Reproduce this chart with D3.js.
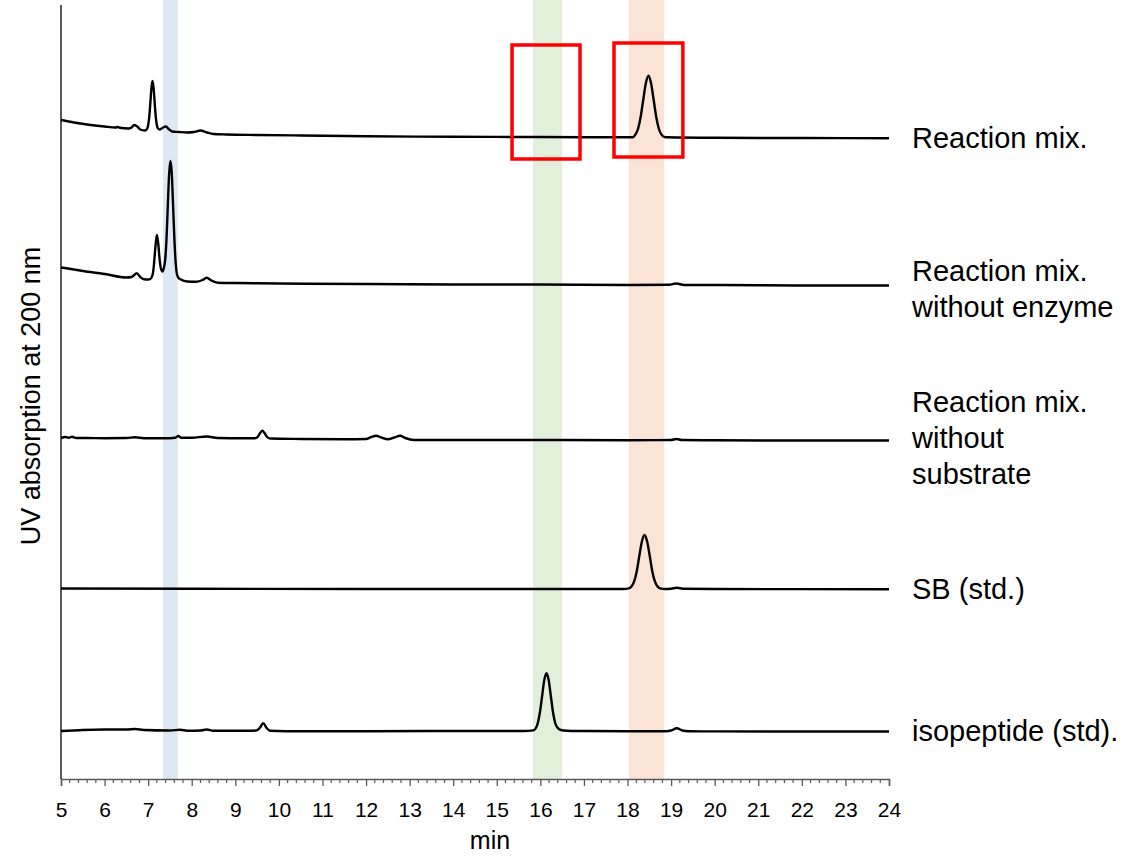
<!DOCTYPE html>
<html>
<head>
<meta charset="utf-8">
<script src="https://cdn.jsdelivr.net/npm/d3@7"></script>
<style>
  body { margin: 0; background: #fff; }
  text { font-family: "Liberation Sans", Arial, sans-serif; }
</style>
</head>
<body>
<svg id="chart" width="1138" height="858"></svg>
<script>
var width = 1138;
var height = 858;
var margin = {"top": 5, "right": 249, "bottom": 79, "left": 61};

// data: retention time (min) and UV signal (a.u.)
var reactionMix = [[5.0,659],[5.3,656.5],[5.6,654.5],[6.0,652.5],[6.25,651.5],[6.3,652],[6.35,651.2],[6.55,650.5],[6.62,651.5],[6.68,654],[6.75,652.5],[6.82,649.5],[6.92,648.5],[6.975,650],[7.0,654],[7.025,662],[7.05,676],[7.075,691],[7.1,698],[7.125,691],[7.15,676],[7.175,662],[7.2,654],[7.225,650.5],[7.27,649.5],[7.34,651.5],[7.41,652.5],[7.47,650],[7.55,647.5],[7.7,647],[7.9,646.5],[8.05,647],[8.2,648.5],[8.35,646.5],[8.5,645],[8.8,644.5],[9.5,644],[10.5,643.5],[12,642.8],[14,642.2],[16,642],[17,641.8],[18.12,641.8],[18.18,644.4],[18.24,650],[18.3,661.7],[18.36,679],[18.42,695.7],[18.48,703.3],[18.54,695.7],[18.6,679],[18.66,661.7],[18.72,650],[18.78,644.4],[18.84,642.2],[18.92,641.7],[20,641.2],[22,641],[24,640.8]];
var noEnzyme = [[5,511.5],[5.5,508],[6,505],[6.5,501.5],[6.62,502],[6.74,505.7],[6.82,502],[6.9,499.7],[7.0,499.5],[7.05,500],[7.1,504],[7.13,513],[7.16,529],[7.2,544],[7.23,536],[7.26,521],[7.29,511],[7.33,507.5],[7.36,511],[7.39,519],[7.42,539],[7.45,572],[7.48,604],[7.51,618],[7.54,607],[7.57,576],[7.6,542],[7.63,517],[7.66,505],[7.7,501],[7.75,499.5],[7.9,497.5],[8.1,497.3],[8.25,499],[8.34,501.3],[8.45,498.5],[8.6,496.3],[9,496],[10,495.5],[12,495],[14,494.5],[16,494.5],[18,494],[18.95,494.2],[19.12,495.5],[19.3,494],[20,494],[22,493.5],[24,493.5]];
var noSubstrate = [[5.0,341],[5.1,342],[5.18,341.2],[5.25,342.3],[5.35,341],[5.6,341],[6.0,340.8],[6.5,341],[6.7,341.7],[6.9,340.8],[7.5,340.8],[7.62,341.2],[7.69,343],[7.76,341.2],[8.0,341.2],[8.34,342.5],[8.6,341],[9.2,340.7],[9.45,340.7],[9.52,342.5],[9.57,346],[9.62,348.3],[9.67,346],[9.72,342.5],[9.8,340.5],[10.5,340],[11.5,339.7],[12.0,340],[12.12,342],[12.23,343.3],[12.35,341.5],[12.5,339.7],[12.65,341.5],[12.78,343.3],[12.9,341],[13.1,339],[14,339],[16,339],[18,338.8],[19.0,339],[19.12,340],[19.25,339],[20,338.7],[22,338.5],[24,338.5]];
var sbStd = [[5,190.5],[8,190.2],[12,190],[16,190],[17.9,190],[18.03,190.6],[18.09,192.4],[18.15,197.3],[18.21,207.3],[18.27,223],[18.33,237.5],[18.39,244],[18.45,237.5],[18.51,223],[18.57,207.3],[18.63,197.3],[18.69,192.4],[18.75,190.6],[18.85,190],[19.0,190.3],[19.13,191.3],[19.3,190.2],[20,190],[24,189.8]];
var isoStd = [[5,48],[5.5,49],[6,49.5],[6.5,49.5],[6.7,50],[6.9,49],[7.5,48.5],[7.73,49.2],[7.9,48.3],[8.2,48.5],[8.34,49.5],[8.5,48.3],[9.3,48.3],[9.48,48.5],[9.56,51],[9.64,55.7],[9.72,51],[9.8,48.3],[10.5,47.8],[12,47.8],[14,48],[15.6,48],[15.84,48.6],[15.89,50.5],[15.94,55.8],[15.99,66.7],[16.04,83],[16.09,98.9],[16.14,105.7],[16.19,98.9],[16.24,83],[16.29,66.7],[16.34,56],[16.4,51],[16.47,49],[16.6,48.3],[17,48],[18,47.7],[18.9,47.7],[19.0,48.5],[19.13,50.7],[19.26,48.5],[19.4,47.7],[20,47.6],[24,47.5]];

var traces = [reactionMix, noEnzyme, noSubstrate, sbStd, isoStd];
var traceLabels = [["Reaction mix."], ["Reaction mix.", "without enzyme"], ["Reaction mix.", "without", "substrate"], ["SB (std.)"], ["isopeptide (std)."]];
var labelLevels = [641, 490, 341, 190, 48];

// highlighted retention windows (min)
var bands = [[7.34, 7.68], [15.83, 16.5], [18.03, 18.84]];
var bandColors = ["#dde8f5", "#e2efda", "#fbe4d5"];

// red boxes: [t0, t1, top, bottom]
var boxes = [[15.35, 16.91, 734, 620], [17.69, 19.27, 736, 622]];

var xTicks = d3.range(5, 25, 1);

// scales
var xScale = d3.scaleLinear()
  .domain([5, 24])
  .range([margin.left, width - margin.right]);
var yScale = d3.scaleLinear()
  .domain([0, 774])
  .range([height - margin.bottom, margin.top]);

var svg = d3.select('#chart');

// bands
svg.selectAll('rect.band')
  .data(bands)
  .enter().append('rect')
  .attr('class', 'band')
  .attr('x', function(d){ return xScale(d[0]); })
  .attr('y', 0)
  .attr('width', function(d){ return xScale(d[1]) - xScale(d[0]); })
  .attr('height', height - margin.bottom)
  .attr('fill', function(d, i){ return bandColors[i]; });

// traces
var line = d3.line()
  .x(function(d){ return xScale(d[0]); })
  .y(function(d){ return yScale(d[1]); })
  .curve(d3.curveMonotoneX);

svg.selectAll('path.trace')
  .data(traces)
  .enter().append('path')
  .attr('class', 'trace')
  .attr('d', line)
  .attr('fill', 'none')
  .attr('stroke', '#000')
  .attr('stroke-width', 2.4)
  .attr('stroke-linejoin', 'round');

// red boxes
svg.selectAll('rect.box')
  .data(boxes)
  .enter().append('rect')
  .attr('class', 'box')
  .attr('x', function(d){ return xScale(d[0]); })
  .attr('y', function(d){ return yScale(d[2]); })
  .attr('width', function(d){ return xScale(d[1]) - xScale(d[0]); })
  .attr('height', function(d){ return yScale(d[3]) - yScale(d[2]); })
  .attr('fill', 'none')
  .attr('stroke', '#ff0000')
  .attr('stroke-width', 3.5);

// axes
var xAxis = d3.axisBottom()
  .scale(xScale)
  .tickValues(xTicks)
  .tickSize(7)
  .tickPadding(16)
  .tickFormat(d3.format('d'));

var gx = svg.append('g')
  .attr('transform', 'translate(' + [0, height - margin.bottom] + ')')
  .call(xAxis);
gx.select('.domain').attr('stroke', '#595959').attr('stroke-width', 1.5);
gx.selectAll('.tick line').attr('stroke', '#595959').attr('stroke-width', 1.3);
gx.selectAll('.tick text').attr('font-size', 21).attr('font-family', '"Liberation Sans", Arial, sans-serif').attr('fill', '#000');

// minor ticks
gx.selectAll('line.minor')
  .data(d3.range(5, 24.001, 0.2).filter(function(v){ return Math.abs(v - Math.round(v)) > 0.01; }))
  .enter().append('line')
  .attr('class', 'minor')
  .attr('x1', function(d){ return xScale(d); })
  .attr('x2', function(d){ return xScale(d); })
  .attr('y1', 0)
  .attr('y2', 4)
  .attr('stroke', '#595959')
  .attr('stroke-width', 1.2);

svg.append('line')
  .attr('x1', margin.left).attr('x2', margin.left)
  .attr('y1', margin.top).attr('y2', height - margin.bottom)
  .attr('stroke', '#000')
  .attr('stroke-width', 1.3);

// axis titles
svg.append('text')
  .attr('x', 490)
  .attr('y', 849)
  .attr('text-anchor', 'middle')
  .attr('font-size', 25)
  .text('min');

svg.append('text')
  .attr('transform', 'translate(40,396) rotate(-90)')
  .attr('text-anchor', 'middle')
  .attr('font-size', 27)
  .text('UV absorption at 200 nm');

// trace labels
var lineGap = 36;
traceLabels.forEach(function(lines, i){
  var cy = yScale(labelLevels[i]);
  var y0 = cy - (lines.length - 1) * lineGap / 2 + 10;
  var t = svg.append('text')
    .attr('x', 912)
    .attr('font-size', 29);
  lines.forEach(function(s, j){
    t.append('tspan').attr('x', 912).attr('y', y0 + j * lineGap).text(s);
  });
});
</script>
</body>
</html>
